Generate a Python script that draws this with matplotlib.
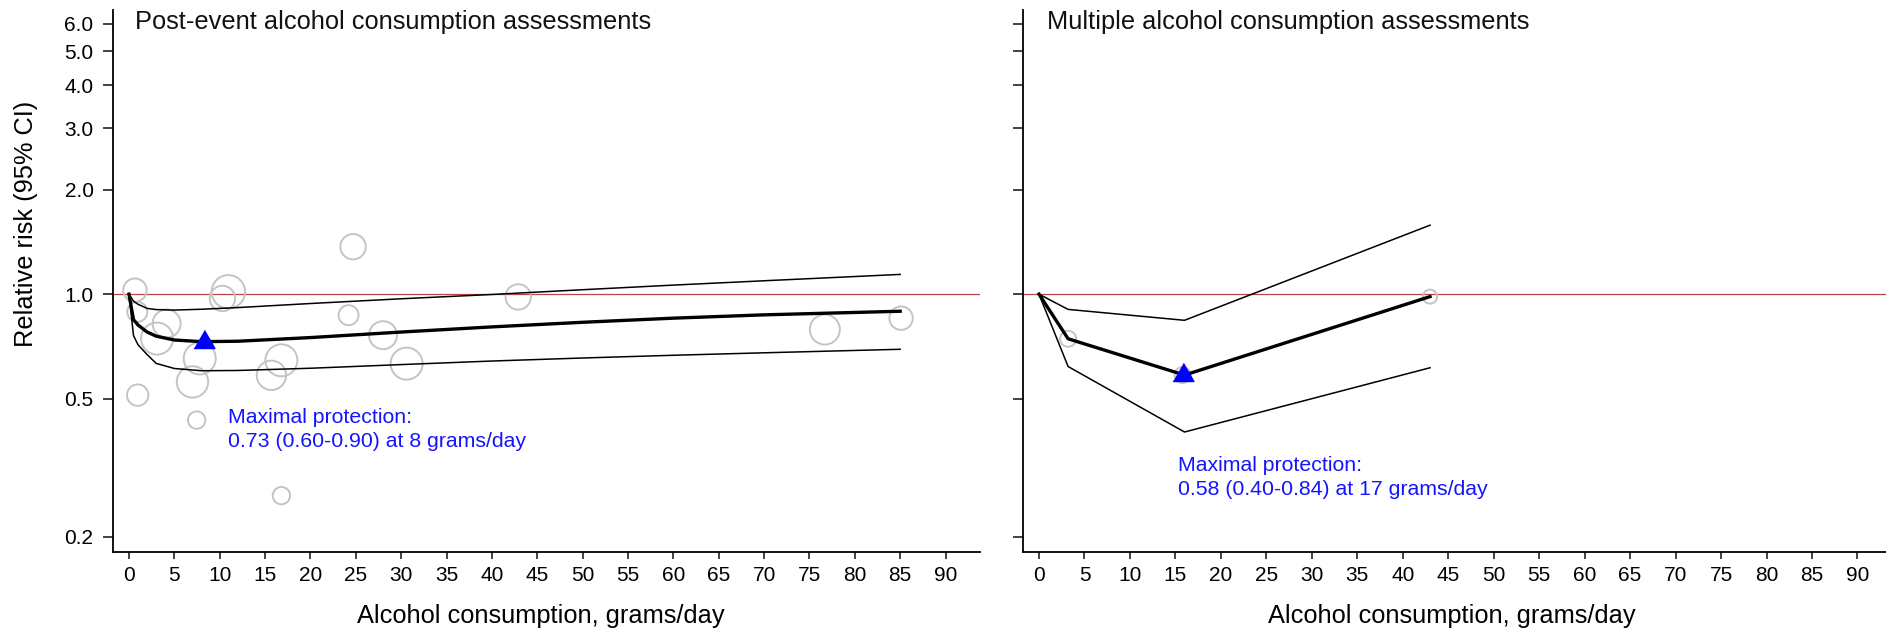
import matplotlib
matplotlib.use("Agg")
import matplotlib.pyplot as plt
from matplotlib.ticker import FixedLocator, NullLocator, NullFormatter

plt.rcParams['font.family'] = ['Liberation Sans', 'DejaVu Sans']

# Post-event assessments: pooled dose-response curve and 95% CI
left_x = [0, 0.5, 1, 2, 3, 5, 8, 12, 20, 30, 40, 50, 60, 70, 85]
left_rr = [1.0, 0.845, 0.815, 0.778, 0.757, 0.738, 0.73, 0.732, 0.75, 0.778, 0.805, 0.83, 0.853, 0.872, 0.893]
left_hi = [1.0, 0.955, 0.935, 0.91, 0.903, 0.90, 0.905, 0.915, 0.94, 0.97, 0.998, 1.03, 1.062, 1.093, 1.14]
left_lo = [1.0, 0.76, 0.715, 0.67, 0.632, 0.611, 0.602, 0.603, 0.612, 0.627, 0.642, 0.655, 0.667, 0.678, 0.694]

# study-level estimates (bubble radius ~ study weight)
left_study_x = [0.66, 0.92, 4.15, 3.1, 10.95, 10.3, 24.7, 24.2, 28.0, 30.6,
                16.8, 15.7, 7.8, 7.0, 0.96, 7.46, 16.8, 42.9, 76.7, 85.1]
left_study_rr = [1.027, 0.889, 0.823, 0.745, 1.016, 0.972, 1.37, 0.87, 0.762, 0.631,
                 0.645, 0.584, 0.653, 0.559, 0.512, 0.434, 0.263, 0.982, 0.791, 0.853]
left_study_w = [11.7, 10, 14, 16, 16.7, 12.7, 12.7, 10, 14, 16,
                16, 14.7, 16, 15.7, 10.7, 8.7, 8.7, 12.7, 15, 11.7]
left_best = (8.3, 0.727)

# Multiple assessments
right_x = [0, 3.2, 16, 43]
right_rr = [1.0, 0.744, 0.585, 0.984]
right_hi = [1.0, 0.904, 0.841, 1.58]
right_lo = [1.0, 0.619, 0.401, 0.614]
right_study_x = [3.2, 15.8, 43]
right_study_rr = [0.744, 0.585, 0.984]
right_study_w = [8, 8, 7]
right_best = (15.8, 0.585)

y_ticks = [0.2, 0.5, 1.0, 2.0, 3.0, 4.0, 5.0, 6.0]
x_ticks = list(range(0, 95, 5))

W, H = 1886, 629
fig = plt.figure(figsize=(W / 100, H / 100), dpi=100)

tri = [(-1, -0.577), (1, -0.577), (0, 1.155)]
blue = '#1414ff'


def setup_axes(ax, show_labels):
    ax.set_yscale('log')
    ax.set_xlim(-1.76, 93.8)
    ax.set_ylim(0.181, 6.58)
    ax.yaxis.set_major_locator(FixedLocator(y_ticks))
    ax.yaxis.set_minor_locator(NullLocator())
    ax.yaxis.set_minor_formatter(NullFormatter())
    if show_labels:
        ax.set_yticklabels([f"{v:.1f}" for v in y_ticks])
    else:
        ax.set_yticklabels([])
    ax.set_xticks(x_ticks)
    ax.set_xticklabels([str(v) for v in x_ticks])
    for s in ['top', 'right']:
        ax.spines[s].set_visible(False)
    for s in ['left', 'bottom']:
        ax.spines[s].set_linewidth(1.3)
    ax.tick_params(axis='both', direction='out', width=1.2, labelsize=15, color='#222222')
    ax.tick_params(axis='x', length=5, pad=5)
    ax.tick_params(axis='y', length=7, pad=7)
    ax.set_xlabel("Alcohol consumption, grams/day", fontsize=18.3, labelpad=14)
    ax.xaxis.label.set_x(0.4937)
    ax.axhline(1.0, color='#b84848', lw=0.9, zorder=1)


def draw_panel(ax, x, rr, lo, hi, sx, sy, sw, best, title, title_x, note, note_xy):
    sizes = [(2 * r * 0.72) ** 2 for r in sw]
    ax.scatter(sx, sy, s=sizes, facecolors='none', edgecolors='#c4c4c4', linewidths=1.4, zorder=2)
    ax.plot(x, hi, color='black', lw=1.1, zorder=3)
    ax.plot(x, lo, color='black', lw=1.1, zorder=3)
    ax.plot(x, rr, color='black', lw=2.4, zorder=4)
    ax.plot([best[0]], [best[1]], marker=tri, ms=17.3, color='#0000ff', ls='none', zorder=5)
    ax.text(title_x, 0.9644, title, transform=ax.transAxes, fontsize=18.3,
            color='#111111', ha='left', va='baseline')
    ax.text(note_xy[0], note_xy[1], note[0], color=blue, fontsize=15.3, ha='left', va='baseline')
    ax.text(note_xy[0], note_xy[2], note[1], color=blue, fontsize=15.3, ha='left', va='baseline')


ax1 = fig.add_axes([113 / W, 1 - 552 / H, 867 / W, 542 / H])
setup_axes(ax1, True)
draw_panel(ax1, left_x, left_rr, left_lo, left_hi,
           left_study_x, left_study_rr, left_study_w, left_best,
           "Post-event alcohol consumption assessments", 0.0254,
           ["Maximal protection:", "0.73 (0.60-0.90) at 8 grams/day"],
           (10.95, 0.4257, 0.363))
ax1.set_ylabel("Relative risk (95% CI)", fontsize=18.3)
ax1.yaxis.set_label_coords(-0.0865, 0.605)

ax2 = fig.add_axes([1023 / W, 1 - 552 / H, 869 / W, 542 / H])
setup_axes(ax2, False)
draw_panel(ax2, right_x, right_rr, right_lo, right_hi,
           right_study_x, right_study_rr, right_study_w, right_best,
           "Multiple alcohol consumption assessments", 0.0273,
           ["Maximal protection:", "0.58 (0.40-0.84) at 17 grams/day"],
           (15.3, 0.3096, 0.2638))

fig.savefig("out.png", dpi=100)
